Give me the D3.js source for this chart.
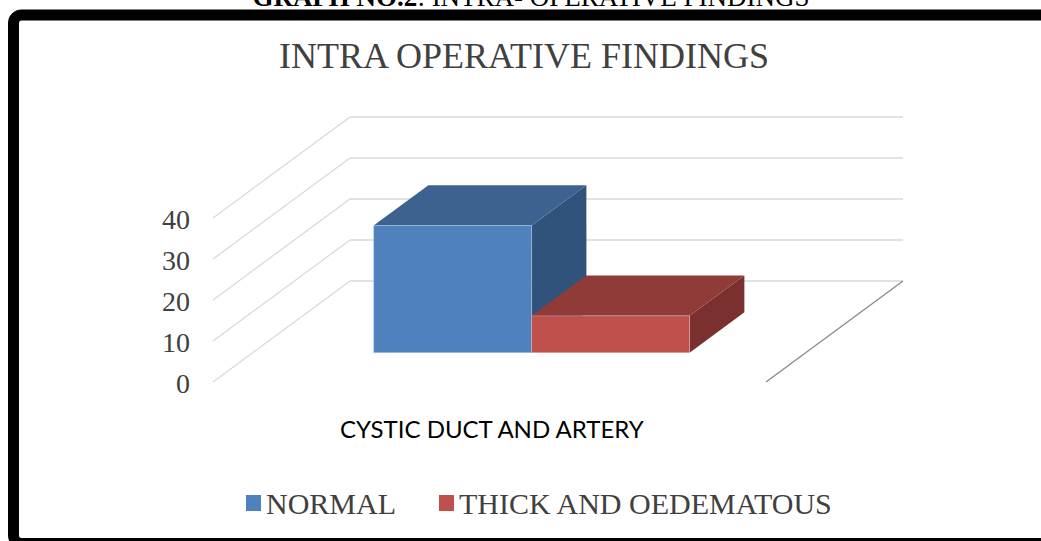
<!DOCTYPE html>
<html>
  <head>
    <meta http-equiv="Content-Type" content="text/html;charset=utf-8">
    <title>Intra operative findings - 3D column chart</title>
    <script type="text/javascript" src="https://d3js.org/d3.v7.min.js"></script>
    <style>
      html, body {
        margin: 0;
        padding: 0;
        background: #fff;
        overflow: hidden;
      }
      text {
        font-family: "Liberation Serif", "Times New Roman", serif;
        fill: #404040;
      }
      .grid line {
        stroke: #d9d9d9;
        stroke-width: 1.3px;
      }
    </style>
  </head>
  <body>
  <script type="text/javascript">

// data
var categories = ["CYSTIC DUCT AND ARTERY"];
var seriesNames = ["NORMAL", "THICK AND OEDEMATOUS"];
var normalValues = [31];
var thickValues = [9];
var yTicks = [0, 10, 20, 30, 40];

var seriesColors = {
  "NORMAL": { front: "#4f81bd", top: "#3d628f", side: "#31537b" },
  "THICK AND OEDEMATOUS": { front: "#c0504d", top: "#913b39", side: "#7a302f" }
};

var W = 1041, H = 541;

// back wall of the 3d box and the depth vector (back -> front)
var wallLeft = 350, wallRight = 903;
var depthX = -137, depthY = 101;

var y = d3.scaleLinear().domain([0, 40]).range([281, 117]);

var x = d3.scaleBand()
  .domain(categories)
  .range([0, wallRight - wallLeft])
  .paddingInner(0)
  .paddingOuter(0.375)
  .align(0.51);

var xs = d3.scaleBand()
  .domain(seriesNames)
  .range([0, x.bandwidth()]);

// depth: 0 = back wall, 1 = front edge of the floor
var z = d3.scaleLinear().domain([0, 1]).range([0, 1]);
var barBack = 0.31, barFront = 0.71;

function proj(px, v, dz) {
  return [wallLeft + px + depthX * z(dz), y(v) + depthY * z(dz)];
}

var svg = d3.select("body").append("svg")
  .attr("width", W).attr("height", H);

// heading above the frame (cut off at the top, as in the source)
var head = svg.append("text")
  .attr("x", 531).attr("y", 6)
  .attr("text-anchor", "middle")
  .style("font-size", "27px")
  .style("fill", "#000");
head.append("tspan").style("font-weight", "bold").text("GRAPH NO.2");
head.append("tspan").text(": INTRA- OPERATIVE FINDINGS");

// black frame round the chart
svg.append("rect")
  .attr("x", 13.5).attr("y", 15)
  .attr("width", 1100).attr("height", 528.5)
  .attr("rx", 8)
  .attr("fill", "#fff")
  .attr("stroke", "#000")
  .attr("stroke-width", 11);

svg.append("text")
  .attr("x", 524).attr("y", 68)
  .attr("text-anchor", "middle")
  .style("font-size", "36px")
  .text("INTRA OPERATIVE FINDINGS");

// gridlines: back wall + left side wall
var grid = svg.append("g").attr("class", "grid");
grid.selectAll(".back").data(yTicks).enter().append("line")
  .attr("x1", wallLeft).attr("x2", wallRight)
  .attr("y1", function(d) { return y(d); })
  .attr("y2", function(d) { return y(d); });
grid.selectAll(".side").data(yTicks).enter().append("line")
  .attr("x1", wallLeft).attr("y1", function(d) { return y(d); })
  .attr("x2", wallLeft + depthX).attr("y2", function(d) { return y(d) + depthY; });

// right edge of the floor
svg.append("line")
  .attr("x1", wallRight).attr("y1", y(0))
  .attr("x2", wallRight + depthX).attr("y2", y(0) + depthY)
  .attr("stroke", "#898989")
  .attr("stroke-width", 1.3);

// y tick labels at the front end of the side gridlines
svg.selectAll(".tick").data(yTicks).enter().append("text")
  .attr("x", wallLeft + depthX - 23)
  .attr("y", function(d) { return y(d) + depthY + 11; })
  .attr("text-anchor", "end")
  .style("font-size", "28px")
  .text(function(d) { return d; });

// bars
var rows = [];
categories.forEach(function(c, i) {
  rows.push({ cat: c, series: seriesNames[0], value: normalValues[i] });
  rows.push({ cat: c, series: seriesNames[1], value: thickValues[i] });
});

var line = d3.line();
var bars = svg.append("g").selectAll("g").data(rows).enter().append("g");

bars.each(function(d) {
  var g = d3.select(this);
  var x0 = x(d.cat) + xs(d.series);
  var x1 = x0 + xs.bandwidth();
  var col = seriesColors[d.series];

  var front = [proj(x0, 0, barFront), proj(x1, 0, barFront), proj(x1, d.value, barFront), proj(x0, d.value, barFront)];
  var top = [proj(x0, d.value, barFront), proj(x1, d.value, barFront), proj(x1, d.value, barBack), proj(x0, d.value, barBack)];
  var side = [proj(x1, 0, barFront), proj(x1, 0, barBack), proj(x1, d.value, barBack), proj(x1, d.value, barFront)];

  g.append("path").attr("d", line(side) + "Z").attr("fill", col.side);
  g.append("path").attr("d", line(top) + "Z").attr("fill", col.top);
  g.append("path").attr("d", line(front) + "Z").attr("fill", col.front)
    .attr("stroke", "#fff").attr("stroke-opacity", 0.25).attr("stroke-width", 1);
});

// category label under the floor
svg.append("text")
  .attr("x", wallLeft + depthX + x(categories[0]) + x.bandwidth() / 2)
  .attr("y", 438)
  .attr("text-anchor", "middle")
  .style("font-family", "Lato, 'Noto Sans', sans-serif")
  .style("font-size", "24px")
  .style("fill", "#000")
  .text(categories[0]);

// legend
var legendX = [246, 439];
var legend = svg.selectAll(".legend").data(seriesNames).enter().append("g")
  .attr("transform", function(d, i) { return "translate(" + legendX[i] + ",495)"; });
legend.append("rect")
  .attr("width", 15).attr("height", 16)
  .attr("fill", function(d) { return seriesColors[d].front; });
legend.append("text")
  .attr("x", 20).attr("y", 19)
  .style("font-size", "30px")
  .text(function(d) { return d; });

  </script>
  </body>
</html>
